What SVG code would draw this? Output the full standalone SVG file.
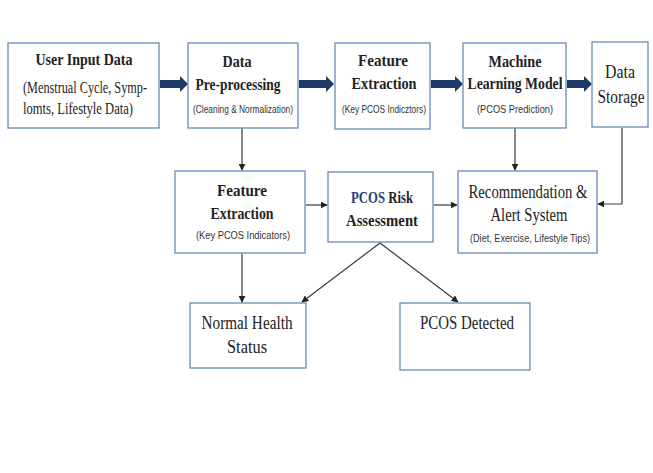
<svg xmlns="http://www.w3.org/2000/svg" width="653" height="473" viewBox="0 0 653 473">
<style>
.box{fill:#ffffff;stroke:#6a88bb;stroke-width:1.3}
.t{font-family:"Liberation Serif","DejaVu Serif",serif;fill:#222;text-anchor:middle}
.b{font-weight:bold;font-size:17px}
.r{font-size:18px}
.s{font-family:"Liberation Sans Narrow","Liberation Sans",sans-serif;font-size:11px;fill:#333;text-anchor:middle}
.m{font-family:"Liberation Serif",serif;font-size:16px;fill:#222}
.ln{fill:none;stroke:#3a3a3a;stroke-width:1.2}
.thick{fill:#1d3a66}
</style>
<defs>
<marker id="ah" viewBox="0 0 10 10" refX="9" refY="5" markerWidth="7" markerHeight="7" markerUnits="userSpaceOnUse" orient="auto">
<path d="M0,0 L10,5 L0,10 Z" fill="#222"/>
</marker>
</defs>
<rect width="653" height="473" fill="#ffffff"/>

<g id="connectors">
<path class="thick" d="M160,80 H180 V76 L188,84 L180,92 V88 H160 Z"/>
<path class="thick" d="M299,80 H326 V76 L334,84 L326,92 V88 H299 Z"/>
<path class="thick" d="M431,80 H455 V76 L463,84 L455,92 V88 H431 Z"/>
<path class="thick" d="M567,80 H584 V76 L592,84 L584,92 V88 H567 Z"/>
<path class="ln" d="M242,128 V170" marker-end="url(#ah)"/>
<path class="ln" d="M515,128 V170" marker-end="url(#ah)"/>
<path class="ln" d="M622,128 V204 H598" marker-end="url(#ah)"/>
<path class="ln" d="M306,205 H327" marker-end="url(#ah)"/>
<path class="ln" d="M434,205 H457" marker-end="url(#ah)"/>
<path class="ln" d="M242,254 V302" marker-end="url(#ah)"/>
<path class="ln" d="M380,243 L302,302" marker-end="url(#ah)"/>
<path class="ln" d="M380,243 L458,302" marker-end="url(#ah)"/>
</g>

<g id="user-input">
<rect class="box" x="8" y="43" width="151" height="85"/>
<text class="t b" x="84" y="65" textLength="97" lengthAdjust="spacingAndGlyphs">User Input Data</text>
<text class="m" x="23" y="93" textLength="124" lengthAdjust="spacingAndGlyphs">(Menstrual Cycle, Symp-</text>
<text class="m" x="23" y="114" textLength="110" lengthAdjust="spacingAndGlyphs">lomts, Lifestyle  Data)</text>
</g>

<g id="preprocessing">
<rect class="box" x="188" y="43" width="110" height="85"/>
<text class="t b" x="237" y="67" textLength="29" lengthAdjust="spacingAndGlyphs">Data</text>
<text class="t b" x="238" y="90" textLength="85" lengthAdjust="spacingAndGlyphs">Pre-processing</text>
<text class="s" x="243" y="113" textLength="100" lengthAdjust="spacingAndGlyphs">(Cleaning &amp; Normalization)</text>
</g>

<g id="feature-extraction-top">
<rect class="box" x="335" y="43" width="95" height="86"/>
<text class="t b" x="383" y="66" textLength="50" lengthAdjust="spacingAndGlyphs">Feature</text>
<text class="t b" x="384" y="89" textLength="65" lengthAdjust="spacingAndGlyphs">Extraction</text>
<text class="s" x="384" y="113" textLength="84" lengthAdjust="spacingAndGlyphs">(Key PCOS Indicztors)</text>
</g>

<g id="ml-model">
<rect class="box" x="463" y="43" width="103" height="85"/>
<text class="t b" x="515" y="67" textLength="53" lengthAdjust="spacingAndGlyphs">Machine</text>
<text class="t b" x="515" y="89" textLength="95" lengthAdjust="spacingAndGlyphs">Learning Model</text>
<text class="s" x="515" y="113" textLength="76" lengthAdjust="spacingAndGlyphs">(PCOS Prediction)</text>
</g>

<g id="data-storage">
<rect class="box" x="592" y="42" width="56" height="85"/>
<text class="t r" x="620" y="78" textLength="30" lengthAdjust="spacingAndGlyphs">Data</text>
<text class="t r" x="621" y="103" textLength="47" lengthAdjust="spacingAndGlyphs">Storage</text>
</g>

<g id="feature-extraction">
<rect class="box" x="175" y="171" width="130" height="82"/>
<text class="t b" x="242" y="196" textLength="50" lengthAdjust="spacingAndGlyphs">Feature</text>
<text class="t b" x="242" y="219" textLength="63" lengthAdjust="spacingAndGlyphs">Extraction</text>
<text class="s" x="243" y="239" textLength="94" lengthAdjust="spacingAndGlyphs">(Key PCOS Indicators)</text>
</g>

<g id="risk-assessment">
<rect class="box" x="328" y="172" width="105" height="70"/>
<text class="t b" transform="translate(382,203) scale(0.75,1)" x="0" y="0"><tspan fill="#1f3f7a">PCOS</tspan> Risk</text>
<text class="t b" x="382" y="226" textLength="72" lengthAdjust="spacingAndGlyphs">Assessment</text>
</g>

<g id="recommendation">
<rect class="box" x="458" y="171" width="139" height="82"/>
<text class="t r" x="528" y="198" textLength="119" lengthAdjust="spacingAndGlyphs">Recommendation &amp;</text>
<text class="t r" x="529" y="221" textLength="77" lengthAdjust="spacingAndGlyphs">Alert System</text>
<text class="s" x="530" y="242" textLength="120" lengthAdjust="spacingAndGlyphs">(Diet, Exercise, Lifestyle Tips)</text>
</g>

<g id="normal-health">
<rect class="box" x="190" y="303" width="116" height="65"/>
<text class="t r" x="247" y="329" textLength="91" lengthAdjust="spacingAndGlyphs">Normal Health</text>
<text class="t r" x="247" y="353" textLength="40" lengthAdjust="spacingAndGlyphs">Status</text>
</g>

<g id="pcos-detected">
<rect class="box" x="400" y="303" width="130" height="67"/>
<text class="t r" x="467" y="329" textLength="94" lengthAdjust="spacingAndGlyphs">PCOS Detected</text>
</g>
</svg>
